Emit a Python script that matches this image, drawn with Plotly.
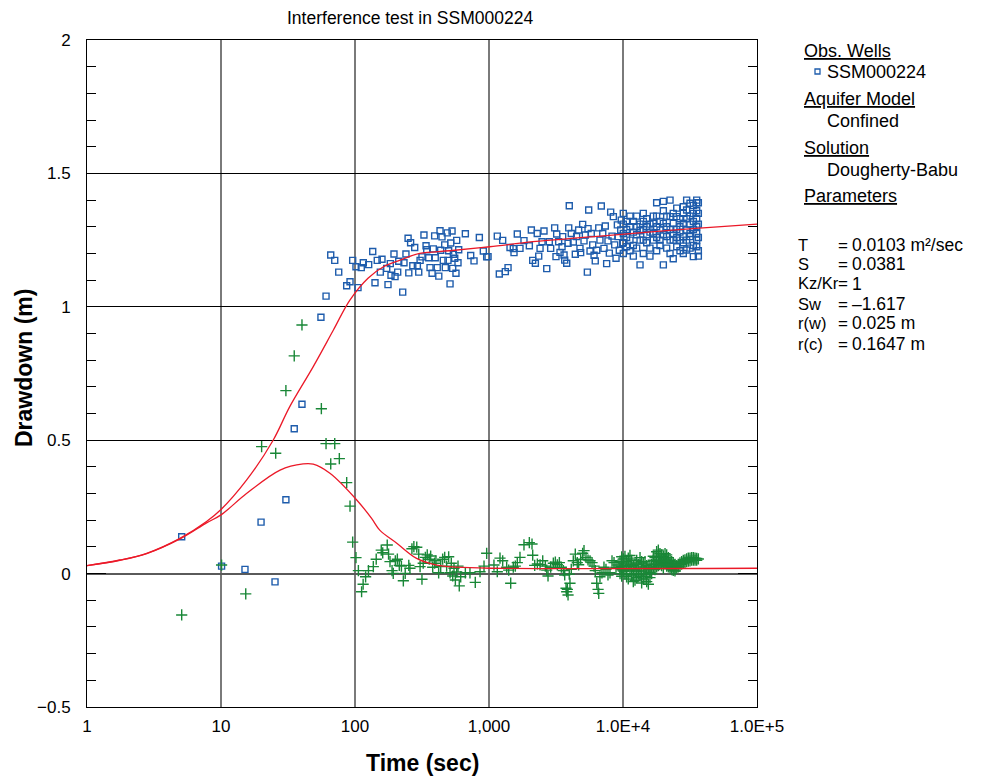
import plotly.graph_objects as go

# ---------------- data ----------------
# observed drawdown (blue squares): (time s, drawdown m)
obs_drawdown = [
    (5.09, 0.138), (10.1, 0.028), (15.1, 0.016), (19.9, 0.193), (25.3, -0.031),
    (30.5, 0.277), (35.2, 0.543), (40.2, 0.635), (55.7, 0.961), (60.8, 1.04),
    (65.9, 1.194), (70.6, 1.174), (75.6, 1.130), (86.7, 1.079), (91.8, 1.094),
    (96.1, 1.174), (101.7, 1.150), (105.3, 1.072), (111.4, 1.147), (115.3, 1.165),
    (126.5, 1.158), (135.6, 1.207), (141, 1.090), (146.6, 1.174), (159, 1.178),
    (154.5, 1.130), (172.5, 1.144), (176.3, 1.083), (183.4, 1.162), (185.6, 1.118),
    (195.4, 1.198), (199, 1.113), (208.3, 1.130), (212, 1.171), (227, 1.055),
    (232, 1.165), (240, 1.198), (249, 1.257), (252, 1.127), (260, 1.240),
    (270, 1.154), (279, 1.222), (292, 1.154), (299, 1.130), (306, 1.174),
    (316, 1.187), (327, 1.269), (339, 1.229), (343, 1.214), (355, 1.184),
    (363, 1.147), (376, 1.126), (384, 1.217), (397, 1.184), (393, 1.266),
    (411, 1.147), (422, 1.115), (431, 1.285), (436, 1.212), (446, 1.262),
    (456, 1.174), (467, 1.232), (472, 1.147), (488, 1.277), (494, 1.174),
    (500, 1.210), (512, 1.086), (518, 1.239), (530, 1.284), (536, 1.144),
    (542, 1.197), (555, 1.182), (567, 1.126), (574, 1.249), (587, 1.165),
    (594, 1.214), (666, 1.274), (730, 1.192), (773, 1.172), (847, 1.260),
    (907, 1.209), (961, 1.187),
    (984, 1.188), (1153, 1.265), (1265, 1.249), (1194, 1.123), (1324, 1.132),
    (1387, 1.147), (1435, 1.222), (1537, 1.203), (1518, 1.218), (1626, 1.273),
    (1703, 1.219), (1824, 1.248), (2000, 1.229), (2070, 1.288), (2119, 1.174),
    (2218, 1.163), (2291, 1.275), (2350, 1.190), (2404, 1.219), (2573, 1.284),
    (2488, 1.244), (2697, 1.143), (2818, 1.244), (2885, 1.219), (3091, 1.296),
    (3162, 1.188), (3199, 1.273), (3311, 1.244), (3388, 1.204), (3508, 1.225),
    (3548, 1.263), (3673, 1.175), (3631, 1.194), (3802, 1.163), (3890, 1.238),
    (3936, 1.296), (3972, 1.379), (4111, 1.275), (4256, 1.243), (4406, 1.197),
    (4508, 1.263), (4667, 1.288), (4775, 1.219), (4831, 1.203), (5000, 1.309),
    (5117, 1.247), (5236, 1.269), (5420, 1.130), (5483, 1.293), (5546, 1.363),
    (5675, 1.209), (5795, 1.275), (5943, 1.232), (6081, 1.193), (6209, 1.172),
    (6368, 1.212), (6592, 1.296), (6730, 1.250), (6887, 1.378), (7063, 1.275),
    (7211, 1.219), (7379, 1.303), (7551, 1.162), (7727, 1.247), (7907, 1.201),
    (8091, 1.355), (8279, 1.265), (8472, 1.338), (8670, 1.232), (8872, 1.182),
    (9078, 1.307), (9183, 1.263), (9383, 1.212), (9616, 1.288), (9705, 1.325),
    (9954, 1.238),
    (10050, 1.35), (10050, 1.31), (10050, 1.275), (10050, 1.24), (10050, 1.20),
    (10640, 1.29), (10640, 1.225), (10640, 1.26), (10640, 1.32),
    (11270, 1.30), (11270, 1.25), (11270, 1.21), (11270, 1.34),
    (11940, 1.23), (11940, 1.19), (11940, 1.28), (11940, 1.32),
    (12650, 1.34), (12650, 1.27), (12650, 1.30), (12650, 1.22),
    (13400, 1.31), (13400, 1.25), (13400, 1.157), (13400, 1.285),
    (14170, 1.35), (14170, 1.25), (14170, 1.20), (14170, 1.29), (14170, 1.32),
    (15030, 1.30), (15030, 1.24), (15030, 1.27), (15030, 1.33),
    (15890, 1.22), (15890, 1.31), (15890, 1.19), (15890, 1.28),
    (16830, 1.313), (16830, 1.275), (16830, 1.25), (16830, 1.34),
    (17830, 1.39), (17830, 1.34), (17830, 1.21), (17830, 1.26), (17830, 1.30),
    (18880, 1.288), (18880, 1.23), (18880, 1.32), (18880, 1.25),
    (20000, 1.36), (20000, 1.395), (20000, 1.313), (20000, 1.157), (20000, 1.27),
    (21180, 1.263), (21180, 1.22), (21180, 1.30), (21180, 1.34),
    (22440, 1.29), (22440, 1.338), (22440, 1.40), (22440, 1.20), (22440, 1.25),
    (23710, 1.18), (23710, 1.25), (23710, 1.313), (23710, 1.275), (23710, 1.35),
    (25180, 1.225), (25180, 1.29), (25180, 1.338), (25180, 1.26), (25180, 1.37),
    (26610, 1.30), (26610, 1.21), (26610, 1.25), (26610, 1.33), (26610, 1.28),
    (28180, 1.20), (28180, 1.263), (28180, 1.313), (28180, 1.375), (28180, 1.24), (28180, 1.35),
    (29850, 1.363), (29850, 1.288), (29850, 1.213), (29850, 1.25), (29850, 1.33), (29850, 1.40),
    (31620, 1.263), (31620, 1.388), (31620, 1.31), (31620, 1.22), (31620, 1.275), (31620, 1.34),
    (33500, 1.35), (33500, 1.188), (33500, 1.29), (33500, 1.23), (33500, 1.32), (33500, 1.38),
    (35480, 1.40), (35480, 1.275), (35480, 1.225), (35480, 1.36), (35480, 1.30),
    (35480, 1.33), (35480, 1.25), (35480, 1.39),
    (36500, 1.39), (36500, 1.31), (36500, 1.26), (36500, 1.21), (36500, 1.35), (36500, 1.19),
]

# observed derivative (green crosses): (time s, value m)
obs_derivative = [
    (5.09, -0.155), (10.1, 0.032), (15.3, -0.076), (20.1, 0.476), (25.6, 0.451),
    (30.5, 0.686), (35.2, 0.816), (40.2, 0.932), (56.1, 0.618), (60.8, 0.487),
    (65.9, 0.411), (70.6, 0.487), (76.4, 0.431), (86.7, 0.341), (91.8, 0.253),
    (96.1, 0.118), (101.7, 0.060), (106, 0.011), (112, -0.068), (115, -0.040),
    (120, -0.012), (126, 0.011), (137, 0.026), (144, 0.054),
    (157, 0.088), (161, 0.078), (174, 0.107), (178, 0.073), (182.5, 0.045),
    (189, 0.011), (193, 0.001), (200, 0.048), (207, 0.054), (214, 0.031),
    (222, 0.028), (229.5, -0.027), (237, 0.001), (252, 0.031), (257, 0.020),
    (266, 0.093), (275, 0.101), (289, 0.099), (299, 0.073), (306, 0.026),
    (316, -0.021), (323, 0.039), (335, 0.061), (346, 0.070), (358, 0.054),
    (367, 0.066), (380, 0.024), (393, 0.039), (402, 0.048), (421, 0.003),
    (436, 0.026), (451, 0.054), (467, 0.061), (483, 0.028), (500, 0.063),
    (512, 0.003), (523, 0.039), (536, -0.009), (548, 0.020), (561, -0.024),
    (574, 0.006), (587, 0.028), (600, -0.046), (615, -0.012), (666, 0.003),
    (721, 0.003), (790, -0.033), (857, 0.007), (918, 0.028), (961, 0.076),
    (1089, 0.032), (1153, 0.007), (1208, 0.058), (1265, 0.048), (1355, 0.024),
    (1403, 0.013), (1452, -0.036), (1518, 0.024), (1572, 0.028), (1626, 0.041),
    (1703, 0.061), (1824, 0.108), (2000, 0.116), (2094, 0.111), (2119, 0.069),
    (2193, 0.031), (2296, 0.036), (2404, 0.033), (2517, 0.048), (2633, 0.028),
    (2697, 0.013), (2757, -0.009), (2886, 0.024), (3021, 0.039), (3126, 0.043),
    (3236, 0.033), (3350, 0.041), (3467, 0.024), (3589, 0.011), (3673, -0.005),
    (3758, -0.055), (3802, -0.068), (3890, -0.080), (3846, -0.059), (3972, -0.002),
    (4020, -0.036), (4111, 0.016), (4256, 0.048), (4406, 0.073), (4558, 0.041),
    (4667, 0.033), (4831, 0.054), (5000, 0.076), (5117, 0.086), (5294, 0.061),
    (5483, 0.051), (5675, 0.048), (5875, 0.041), (6081, 0.028), (6209, 0.011),
    (6368, -0.036), (6516, -0.059), (6592, -0.074), (6730, -0.012), (6966, 0.003),
    (7211, 0.024), (7464, 0.016), (7727, -0.005), (7998, 0.003), (8279, 0.048),
    (8570, 0.041), (8872, 0.024), (9183, 0.032), (9506, 0.045), (9840, 0.016),
    (9506, 0.02), (9506, 0.0), (9780, 0.063), (9780, 0.026), (9780, -0.01),
    (10050, 0.04), (10050, 0.01), (10050, 0.055), (10340, 0.03), (10340, 0.0), (10340, 0.065),
    (10640, 0.045), (10640, 0.015), (10640, -0.012), (10950, 0.058), (10950, 0.026), (10950, -0.02),
    (11270, 0.068), (11270, 0.035), (11270, 0.01), (11600, 0.05), (11600, 0.02), (11600, -0.005),
    (11940, 0.03), (11940, 0.0), (11940, -0.03), (12290, 0.015), (12290, -0.025), (12290, 0.04),
    (12650, 0.01), (12650, -0.015), (12650, 0.05), (13020, 0.035), (13020, 0.0),
    (13400, 0.06), (13400, 0.025), (13400, -0.01), (13780, 0.045), (13780, 0.01), (13780, -0.035),
    (14170, 0.04), (14170, 0.0), (14170, -0.02), (14600, 0.02), (14600, -0.01), (14600, 0.045),
    (15030, 0.03), (15030, -0.03), (15030, 0.0), (15460, 0.015), (15460, -0.04),
    (15890, 0.025), (15890, -0.015), (15890, 0.005), (16350, 0.035), (16350, 0.0),
    (16830, 0.05), (16830, 0.02), (16830, 0.065), (17320, 0.06), (17320, 0.035), (17320, 0.015),
    (17830, 0.082), (17830, 0.045), (17830, 0.025), (18350, 0.088), (18350, 0.06), (18350, 0.03),
    (18880, 0.075), (18880, 0.05), (18880, 0.04), (19430, 0.07), (19430, 0.045), (19430, 0.03),
    (20000, 0.065), (20000, 0.04), (20000, 0.02), (20590, 0.075), (20590, 0.055), (20590, 0.035),
    (21180, 0.07), (21180, 0.045), (21180, 0.028), (21800, 0.06), (21800, 0.04), (21800, 0.025),
    (22440, 0.05), (22440, 0.035), (22440, 0.02), (23070, 0.045), (23070, 0.03), (23070, 0.015),
    (23710, 0.04), (23710, 0.025), (23710, 0.012), (24430, 0.035), (24430, 0.02), (24430, 0.01),
    (25180, 0.03), (25180, 0.02), (25880, 0.035), (25880, 0.025), (26610, 0.04), (26610, 0.028),
    (27380, 0.045), (27380, 0.035), (28180, 0.05), (28180, 0.04), (29000, 0.052), (29000, 0.042),
    (29850, 0.055), (29850, 0.045), (30720, 0.058), (30720, 0.047), (31620, 0.058), (31620, 0.048),
    (32550, 0.06), (32550, 0.05), (33500, 0.06), (33500, 0.05), (34480, 0.058), (34480, 0.05),
    (35480, 0.057), (35480, 0.05), (36500, 0.055),
]

# fitted Dougherty-Babu drawdown curve (red)
fit_time = [1, 1.76, 2.79, 4.94, 7.8, 10, 15.5, 24.5, 32.6, 48.8, 69, 91.6, 125,
            163, 217, 304, 509, 1011, 2120, 5050, 11900, 35000, 100000]
fit_drawdown = [0.03, 0.051, 0.076, 0.132, 0.195, 0.24, 0.35, 0.50, 0.626, 0.776,
                0.913, 1.025, 1.107, 1.15, 1.175, 1.20, 1.21, 1.225, 1.244, 1.26,
                1.275, 1.294, 1.31]

# fitted derivative curve (red)
deriv_time = [1, 1.76, 2.79, 4.94, 7.8, 10, 15.5, 27.6, 41, 48.8, 65, 103, 133,
              153, 205, 288, 407, 574, 1010, 100000]
deriv_fit = [0.03, 0.05, 0.075, 0.13, 0.19, 0.22, 0.30, 0.388, 0.411, 0.41, 0.376,
             0.276, 0.207, 0.163, 0.114, 0.057, 0.032, 0.024, 0.02, 0.02]

x_tickvals = [1, 10, 100, 1000, 1e4, 1e5]
x_ticktext = ["1", "10", "100", "1,000", "1.0E+4", "1.0E+5"]
y_tickvals = [-0.5, 0, 0.5, 1, 1.5, 2]
y_ticktext = ["\u22120.5", "0", "0.5", "1", "1.5", "2"]

title_text = "Interference test in SSM000224"
legend_heads = ["Obs. Wells", "Aquifer Model", "Solution", "Parameters"]
legend_items = ["SSM000224", "Confined", "Dougherty-Babu"]
param_names = ["T", "S", "Kz/Kr", "Sw", "r(w)", "r(c)"]
param_values = ["0.0103 m\u00b2/sec", "0.0381", "1", "\u20131.617", "0.025 m", "0.1647 m"]

# ---------------- figure ----------------
BLUE = "rgb(30,92,172)"
GREEN = "rgb(25,135,55)"
RED = "rgb(235,25,40)"
FONT = "Liberation Sans, Arial, sans-serif"

fig = go.Figure()
fig.add_trace(go.Scatter(
    x=[p[0] for p in obs_drawdown], y=[p[1] for p in obs_drawdown], mode="markers",
    marker=dict(symbol="square-open", size=6, color=BLUE, line=dict(width=1.4, color=BLUE)),
    showlegend=False))
fig.add_trace(go.Scatter(
    x=[p[0] for p in obs_derivative], y=[p[1] for p in obs_derivative], mode="markers",
    marker=dict(symbol="cross-thin-open", size=8, color=GREEN, line=dict(width=1.4, color=GREEN)),
    showlegend=False))
fig.add_trace(go.Scatter(x=fit_time, y=fit_drawdown, mode="lines", line_shape="spline",
                         line=dict(color=RED, width=1.3), showlegend=False))
fig.add_trace(go.Scatter(x=deriv_time, y=deriv_fit, mode="lines", line_shape="spline",
                         line=dict(color=RED, width=1.3), showlegend=False))

fig.update_xaxes(
    type="log", range=[0, 5], tickvals=x_tickvals, ticktext=x_ticktext,
    showgrid=True, gridcolor="#7a7a7a", gridwidth=2,
    showline=True, linecolor="black", linewidth=1, mirror=True,
    ticks="", tickfont=dict(family=FONT, size=17, color="black"),
    ticklabelstandoff=4, zeroline=False)
fig.update_yaxes(
    range=[-0.5, 2], tickvals=y_tickvals, ticktext=y_ticktext,
    showgrid=True, gridcolor="black", gridwidth=1,
    zeroline=True, zerolinecolor="#5a5a5a", zerolinewidth=2,
    showline=True, linecolor="black", linewidth=1, mirror="ticks",
    ticks="inside", ticklen=19, tickcolor="black", tickwidth=1,
    minor=dict(dtick=0.1, tick0=0, ticks="inside", ticklen=9, tickcolor="black",
               tickwidth=1, showgrid=False),
    tickfont=dict(family=FONT, size=17, color="black"), ticklabelstandoff=12)

W, H = 992, 779
L, R, T, B = 87, 235, 40, 72
pw, ph = W - L - R, H - T - B


def px(x):
    return (x - L) / pw


def py(y):
    return (H - B - y) / ph


ann = []
ann.append(dict(text=title_text, x=px(410), y=py(18), xref="paper", yref="paper",
                showarrow=False, font=dict(family=FONT, size=17.5, color="black"),
                xanchor="center", yanchor="middle"))
ann.append(dict(text="<b>Time (sec)</b>", x=px(422), y=py(763), xref="paper", yref="paper",
                showarrow=False, font=dict(family=FONT, size=23, color="black"),
                xanchor="center", yanchor="middle"))
ann.append(dict(text="<b>Drawdown (m)</b>", x=px(24), y=py(368), xref="paper", yref="paper",
                showarrow=False, textangle=-90, font=dict(family=FONT, size=23, color="black"),
                xanchor="center", yanchor="middle"))

head_y = [51, 99, 148, 196]
for txt, yy in zip(legend_heads, head_y):
    ann.append(dict(text="<u>%s</u>" % txt, x=px(802), y=py(yy), xref="paper", yref="paper",
                    showarrow=False, font=dict(family=FONT, size=18, color="black"),
                    xanchor="left", yanchor="middle"))
item_y = [72, 121, 170]
for txt, yy in zip(legend_items, item_y):
    ann.append(dict(text=txt, x=px(825), y=py(yy), xref="paper", yref="paper",
                    showarrow=False, font=dict(family=FONT, size=18, color="black"),
                    xanchor="left", yanchor="middle"))
par_y = [245, 264, 283, 304, 323, 344]
for name, val, yy in zip(param_names, param_values, par_y):
    ann.append(dict(text=name, x=px(796), y=py(yy), xref="paper", yref="paper",
                    showarrow=False, font=dict(family=FONT, size=16.5, color="black"),
                    xanchor="left", yanchor="middle"))
    ann.append(dict(text="=", x=px(836), y=py(yy), xref="paper", yref="paper",
                    showarrow=False, font=dict(family=FONT, size=17, color="black"),
                    xanchor="left", yanchor="middle"))
    ann.append(dict(text=val, x=px(850), y=py(yy + (1 if name == "Kz/Kr" else 0)),
                    xref="paper", yref="paper",
                    showarrow=False, font=dict(family=FONT, size=17.5, color="black"),
                    xanchor="left", yanchor="middle"))

shapes = [dict(type="rect", xref="paper", yref="paper",
               x0=px(815), x1=px(820), y0=py(74), y1=py(69),
               line=dict(color=BLUE, width=1.3))]

fig.update_layout(
    width=W, height=H, margin=dict(l=L, r=R, t=T, b=B),
    paper_bgcolor="white", plot_bgcolor="white",
    annotations=ann, shapes=shapes, showlegend=False,
    font=dict(family=FONT, color="black"))

fig.write_html("out.html")
